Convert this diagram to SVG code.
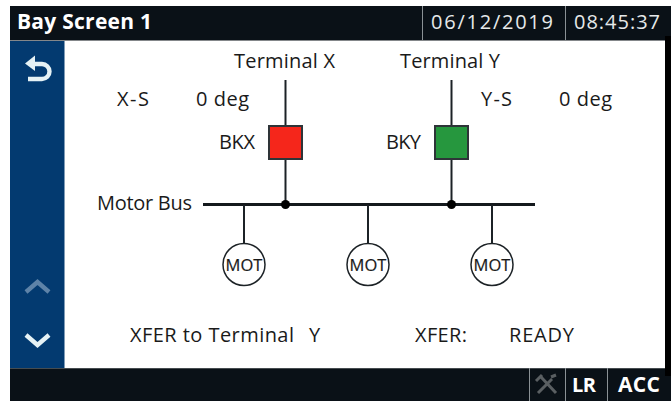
<svg xmlns="http://www.w3.org/2000/svg" width="671" height="401" viewBox="0 0 671 401">
<style>
text{font-family:"Open Sans","Noto Sans","Liberation Sans",sans-serif;font-size:20px;fill:#1a1a1a}
.h{font-weight:700;fill:#fff}
.t{fill:#e6e9ea}
.l{stroke:#1c2226;stroke-width:2;fill:none}
.sep{stroke:#8b9296;stroke-width:1}
.mot{fill:#fff;stroke:#1c2226;stroke-width:1.5}
.m{font-size:16.500px;text-anchor:middle;stroke:#1a1a1a;stroke-width:.2}
.bk{stroke:#2e3438;stroke-width:2}
.ic{fill:none;stroke-width:4.400}
</style>
<rect width="671" height="401" fill="#fff"/>
<g id="header">
<rect x="10" y="6" width="661" height="34.500" fill="#0a1117"/>
<line class="sep" x1="422.500" y1="6" x2="422.500" y2="40"/>
<line class="sep" x1="565.500" y1="6" x2="565.500" y2="40"/>
<text class="h" x="17" y="29" style="font-size:21px" textLength="135">Bay Screen 1</text>
<text class="t" x="431" y="29" textLength="122">06/12/2019</text>
<text class="t" x="574" y="29" textLength="86">08:45:37</text>
</g>
<g id="sidebar">
<rect x="10" y="41" width="54.500" height="327" fill="#033a70"/>
<path class="ic" stroke="#e6f2f5" d="M32 64H42A7.500 7.500 0 0 1 42 79H28"/>
<path fill="#e6f2f5" d="M25 63.500L35 55.500V71Z"/>
<path class="ic" stroke="#5e83a8" d="M26 292L37.500 282L49 292"/>
<path class="ic" stroke="#e6f2f5" d="M26 335L37.500 345L49 335"/>
</g>
<g id="connectors">
<line class="l" x1="285.500" y1="80" x2="285.500" y2="126"/>
<line class="l" x1="285.500" y1="159" x2="285.500" y2="204"/>
<line class="l" x1="451.500" y1="80" x2="451.500" y2="126"/>
<line class="l" x1="451.500" y1="159" x2="451.500" y2="204"/>
<line x1="203" y1="204.500" x2="535" y2="204.500" stroke="#14191d" stroke-width="3"/>
<circle cx="285.500" cy="204.500" r="4.500" fill="#000"/>
<circle cx="451.500" cy="204.500" r="4.500" fill="#000"/>
<line class="l" x1="244" y1="205" x2="244" y2="244"/>
<line class="l" x1="368" y1="205" x2="368" y2="244"/>
<line class="l" x1="492" y1="205" x2="492" y2="244"/>
</g>
<g id="bkx"><rect class="bk" x="269" y="126" width="33" height="33" fill="#f5261b"/><text x="219" y="149" textLength="36">BKX</text></g>
<g id="bky"><rect class="bk" x="435" y="126" width="33" height="33" fill="#26973e"/><text x="386" y="149" textLength="35">BKY</text></g>
<g id="mot1"><circle class="mot" cx="244" cy="264.500" r="21"/><text class="m" x="244" y="270.500">MOT</text></g>
<g id="mot2"><circle class="mot" cx="368" cy="264.500" r="21"/><text class="m" x="368" y="270.500">MOT</text></g>
<g id="mot3"><circle class="mot" cx="492" cy="264.500" r="21"/><text class="m" x="492" y="270.500">MOT</text></g>
<g id="labels">
<text x="234" y="68" textLength="101">Terminal X</text>
<text x="400" y="68" textLength="100">Terminal Y</text>
<text x="117" y="106" textLength="32">X-S</text>
<text x="196" y="106" textLength="53">0 deg</text>
<text x="481" y="106" textLength="31">Y-S</text>
<text x="559" y="106" textLength="53">0 deg</text>
<text x="97" y="210" textLength="95">Motor Bus</text>
<text x="130" y="342" textLength="164">XFER to Terminal</text>
<text x="309" y="342">Y</text>
<text x="415" y="342" textLength="52">XFER:</text>
<text x="509" y="342" textLength="65">READY</text>
</g>
<g id="footer">
<rect x="10" y="368" width="661" height="33" fill="#0a1117"/>
<line x1="10" y1="368.500" x2="665" y2="368.500" stroke="#454c50"/>
<line class="sep" x1="529.500" y1="368" x2="529.500" y2="401"/>
<line class="sep" x1="565.500" y1="368" x2="565.500" y2="401"/>
<line class="sep" x1="607.500" y1="368" x2="607.500" y2="401"/>
<path d="M538 393L552 379M541 377L556 393M536 381L542 375M551 377L556 375" stroke="#5a5f62" stroke-width="3" fill="none"/>
<text class="h" x="572" y="392" style="font-size:20px" textLength="24">LR</text>
<text class="h" x="618" y="392" style="font-size:21px" textLength="42">ACC</text>
</g>
<rect x="665" y="36" width="6" height="340" fill="#000"/>
</svg>
